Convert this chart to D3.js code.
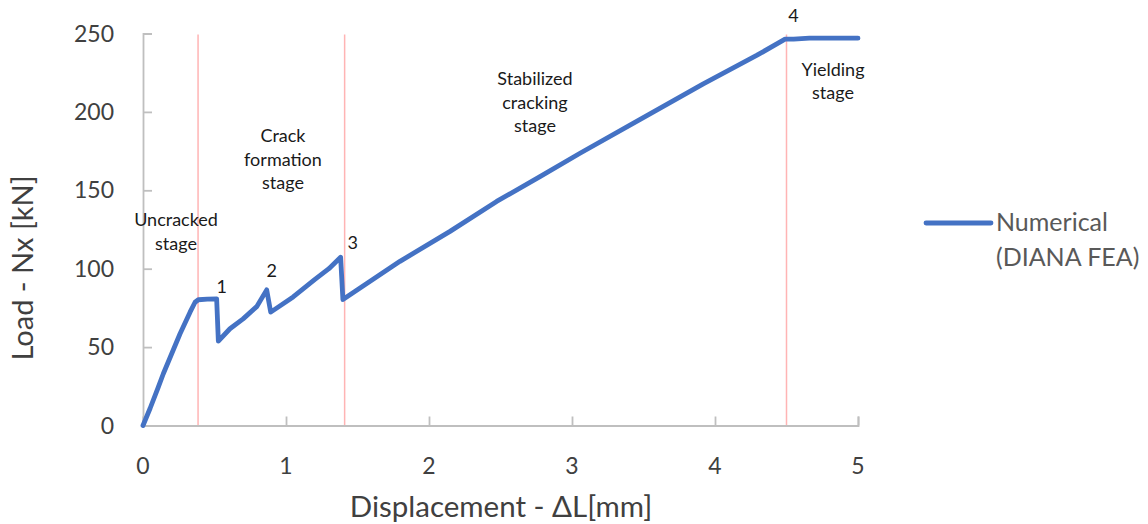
<!DOCTYPE html>
<html>
<head>
<meta charset="utf-8">
<script src="https://cdn.jsdelivr.net/npm/d3@7"></script>
<style>
  html, body { margin: 0; padding: 0; background: #fff; }
  svg { display: block; font-family: Lato, "Open Sans", sans-serif; }
</style>
</head>
<body>
<svg id="chart" width="1148" height="524"></svg>
<script>
// Load–displacement response from the DIANA FEA model
const displacement = [0, 0.05, 0.105, 0.142, 0.259, 0.329, 0.364, 0.387, 0.45, 0.515,
  0.527, 0.608, 0.70, 0.795, 0.865, 0.893, 1.05, 1.20, 1.30, 1.382, 1.398,
  1.797, 2.147, 2.473, 2.776, 3.056, 3.452, 3.918, 4.291, 4.49, 4.55, 4.66, 4.75, 5.0];
const load = [0, 11, 24, 33, 58.5, 72.3, 78.6, 80.2, 80.6, 80.8,
  53.8, 61.7, 68, 75.8, 86.5, 72.3, 82, 93, 100, 107.3, 80.3,
  104.7, 123.8, 142.9, 158.7, 173.6, 194, 217.9, 236, 246.4, 246.4, 247, 247, 247];

// Stage boundaries (displacement, mm) and their labels
const stageBounds = [0.385, 1.41, 4.5];
const stageNames = [
  ["Uncracked", "stage"],
  ["Crack", "formation", "stage"],
  ["Stabilized", "cracking", "stage"],
  ["Yielding", "stage"]
];
const stageAnchor = [[0.231, 127.2], [0.979, 180.8], [2.741, 217], [4.825, 223]];
const pointIds = ["1", "2", "3", "4"];
const pointAnchor = [[0.55, 84.5], [0.9, 94.7], [1.466, 112.6], [4.548, 257.3]];

const xTicks = [0, 1, 2, 3, 4, 5];
const yTicks = [0, 50, 100, 150, 200, 250];
const seriesName = ["Numerical", "(DIANA FEA)"];

const svg = d3.select("#chart");
const x = d3.scaleLinear().domain([0, 5]).range([143, 858]);
const y = d3.scaleLinear().domain([0, 250]).range([425.5, 33.5]);

const axisColor = "#bfbfbf";
const textColor = "#404040";

// Stage separators
svg.append("g").selectAll("line").data(stageBounds).join("line")
  .attr("x1", d => x(d)).attr("x2", d => x(d))
  .attr("y1", y(250) + 1).attr("y2", y(0))
  .attr("stroke", "#ffb4b4").attr("stroke-width", 1.5);

// Axes (ticks point into the plot area)
const xAxis = d3.axisBottom(x).tickValues(xTicks).tickSize(-9).tickFormat("");
const gx = svg.append("g").attr("transform", `translate(0,${y(0)})`).call(xAxis);
const yAxis = d3.axisLeft(y).tickValues(yTicks).tickSize(-9).tickFormat("");
const gy = svg.append("g").attr("transform", `translate(${x(0)},0)`).call(yAxis);
[gx, gy].forEach(g => {
  g.select(".domain").attr("stroke", axisColor).attr("stroke-width", 1.8);
  g.selectAll(".tick line").attr("stroke", axisColor).attr("stroke-width", 1.8);
});

// Tick labels
svg.append("g").selectAll("text").data(xTicks).join("text")
  .attr("x", d => x(d)).attr("y", 473.5)
  .attr("text-anchor", "middle").attr("font-size", 23).attr("fill", textColor)
  .text(d => d);
svg.append("g").selectAll("text").data(yTicks).join("text")
  .attr("x", 114).attr("y", d => y(d)).attr("dy", "0.35em")
  .attr("text-anchor", "end").attr("font-size", 23).attr("fill", textColor)
  .text(d => d);

// Axis titles
svg.append("text").attr("x", 501).attr("y", 517)
  .attr("text-anchor", "middle").attr("font-size", 29.5).attr("fill", textColor)
  .text("Displacement - ΔL[mm]");
svg.append("text").attr("transform", "translate(33,268) rotate(-90)")
  .attr("text-anchor", "middle").attr("font-size", 29).attr("fill", textColor)
  .text("Load - Nx [kN]");

// Curve
const pts = displacement.map((d, i) => [d, load[i]]);
const line = d3.line().x(d => x(d[0])).y(d => y(d[1]));
svg.append("path").datum(pts)
  .attr("d", line)
  .attr("fill", "none").attr("stroke", "#4472c4").attr("stroke-width", 4.8)
  .attr("stroke-linejoin", "round").attr("stroke-linecap", "round");

// Stage labels
stageNames.forEach((lines, i) => {
  const t = svg.append("text")
    .attr("x", x(stageAnchor[i][0])).attr("y", y(stageAnchor[i][1]))
    .attr("text-anchor", "middle").attr("font-size", 18).attr("fill", "#1a1a1a");
  lines.forEach((s, j) => {
    t.append("tspan").attr("x", x(stageAnchor[i][0])).attr("dy", j === 0 ? 0 : 23.5).text(s);
  });
});

// Critical point labels
svg.append("g").selectAll("text").data(pointIds).join("text")
  .attr("x", (d, i) => x(pointAnchor[i][0])).attr("y", (d, i) => y(pointAnchor[i][1]))
  .attr("text-anchor", "middle").attr("font-size", 18).attr("fill", "#1a1a1a")
  .text(d => d);

// Legend
svg.append("line").attr("x1", 926).attr("x2", 991).attr("y1", 223).attr("y2", 223)
  .attr("stroke", "#4472c4").attr("stroke-width", 4.8).attr("stroke-linecap", "round");
const leg = svg.append("text").attr("x", 996).attr("y", 231)
  .attr("font-size", 25).attr("fill", "#595959");
seriesName.forEach((s, j) => {
  leg.append("tspan").attr("x", 996).attr("dy", j === 0 ? 0 : 35).text(s);
});
</script>
</body>
</html>
